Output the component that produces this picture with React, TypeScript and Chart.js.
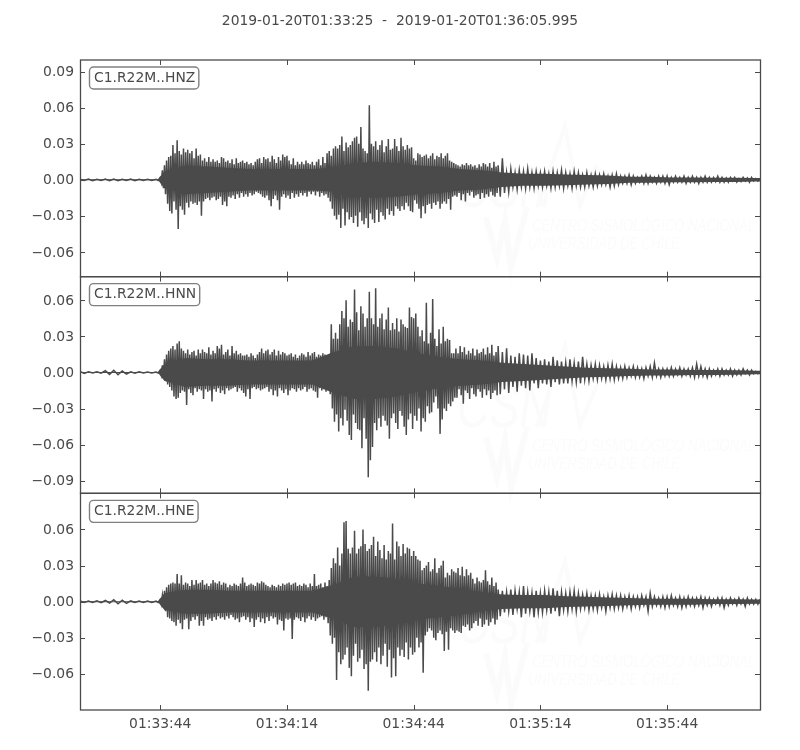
import React, { useEffect, useRef } from "react";
import { Chart, registerables } from "chart.js";

Chart.register(...registerables);

const TITLE = "2019-01-20T01:33:25  -  2019-01-20T01:36:05.995";
const X_TICK_SECONDS = [19, 49, 79, 109, 139];
const X_TICK_LABELS = ["01:33:44", "01:34:14", "01:34:44", "01:35:14", "01:35:44"];
const X_MAX = 160.995;
const UNIT = 0.001;

const STATIONS = ["C1.R22M..HNZ", "C1.R22M..HNN", "C1.R22M..HNE"];
const Y_RANGES = [[-0.0806, 0.0997], [-0.1004, 0.0796], [-0.09, 0.09]];
const Y_TICKS = [
  [0.09, 0.06, 0.03, 0, -0.03, -0.06],
  [0.06, 0.03, 0, -0.03, -0.06, -0.09],
  [0.06, 0.03, 0, -0.03, -0.06],
];

// Peak amplitudes, in thousandths.
// Rows: pre-event (2 s apart), eight 10 s rows (0.5 s apart), coda (1 s apart).
const Z_UP = [
  0.5, 0.6, 0.5, 0.6, 0.7, 0.5, 0.6, 0.5, 0.4, 0.5,
  2, 8, 12, 16, 19, 20, 29, 22, 33, 24, 21, 26, 23, 25, 22, 24, 18, 26, 20, 21,
  16, 18, 15, 19, 15, 17, 15, 16, 14, 19, 18, 15, 16, 14, 17, 13, 18, 14, 15, 16,
  14, 15, 13, 14, 12, 15, 17, 18, 14, 19, 17, 18, 15, 20, 17, 14, 19, 16, 21, 19,
  20, 16, 13, 18, 12, 15, 13, 15, 13, 16, 14, 13, 15, 12, 15, 17, 12, 19, 14, 22,
  24, 20, 26, 28, 26, 29, 36, 24, 31, 27, 29, 32, 35, 36, 30, 44, 26, 24, 22, 62,
  30, 28, 32, 25, 29, 33, 23, 28, 34, 25, 26, 34, 28, 24, 35, 28, 25, 29, 26, 27,
  18, 16, 22, 21, 19, 20, 21, 18, 20, 22, 17, 20, 19, 22, 18, 20, 22, 16, 15, 14,
  13, 12, 11, 13, 12, 14, 12, 13, 11, 12, 10, 13, 11, 14, 13, 11, 14, 10, 15, 11,
  12, 18, 6, 9, 6, 8, 7, 9, 6, 7,
  6, 7, 5, 7, 6, 8, 6, 5, 7, 6,
  4, 6, 4, 5, 4, 5, 3, 4, 5, 3,
  3, 4, 3, 2, 3, 4, 3, 2, 3, 3,
  3, 2, 3, 2, 3, 2, 3, 2, 2, 3,
  2, 2, 3, 2, 1.5, 2, 2, 1, 2, 1.5, 2, 1, 1,
];
const Z_DOWN = [
  -0.6, -0.7, -0.6, -0.8, -0.7, -0.6, -0.7, -0.6, -0.5, -0.6,
  -2, -7, -12, -20, -26, -28, -18, -25, -41, -22, -25, -29, -19, -23, -18, -20, -19, -21, -18, -30,
  -18, -16, -15, -17, -15, -14, -17, -16, -14, -21, -18, -22, -14, -15, -13, -16, -12, -15, -11, -14,
  -12, -14, -11, -13, -12, -10, -11, -12, -14, -15, -13, -17, -22, -16, -13, -17, -25, -14, -12, -15,
  -13, -16, -11, -15, -12, -14, -11, -13, -11, -14, -10, -12, -10, -13, -10, -14, -11, -13, -12, -15,
  -18, -24, -30, -33, -29, -40, -24, -38, -27, -33, -31, -36, -30, -39, -27, -34, -37, -32, -40, -28,
  -33, -36, -25, -35, -27, -30, -33, -24, -29, -26, -30, -22, -24, -26, -22, -25, -19, -22, -26, -27,
  -17, -20, -24, -32, -22, -28, -21, -20, -24, -19, -21, -18, -24, -20, -18, -20, -16, -25, -14, -13,
  -14, -11, -17, -12, -18, -11, -13, -10, -15, -13, -12, -16, -11, -15, -12, -14, -10, -13, -14, -11,
  -14, -11, -10, -6, -8, -6, -7, -6, -7, -5,
  -6, -5, -7, -6, -5, -7, -5, -7, -5, -6,
  -6, -5, -6, -5, -4, -4, -6, -5, -4, -3,
  -3, -4, -3, -2, -3, -3, -2, -3, -2, -3,
  -4, -2, -2, -2, -3, -2, -2, -3, -2, -2,
  -2, -1.5, -2, -2, -2, -1, -2, -1.5, -1, -2, -1, -1, -1,
];
const N_UP = [
  0.8, 0.5, 0.6, 1.5, 1.8, 1.2, 0.6, 0.5, 0.4, 0.4,
  2, 6, 11, 15, 18, 20, 22, 19, 24, 26, 20, 18, 16, 19, 15, 17, 18, 14, 19, 16,
  19, 17, 16, 21, 15, 18, 16, 22, 20, 23, 15, 17, 19, 14, 22, 16, 18, 15, 16, 14,
  14, 15, 13, 16, 14, 12, 15, 17, 20, 16, 18, 19, 15, 17, 19, 14, 18, 15, 17, 16,
  14, 15, 16, 13, 15, 12, 14, 16, 15, 13, 17, 14, 16, 17, 13, 15, 14, 16, 15, 14,
  15, 40, 28, 33, 28, 40, 51, 45, 60, 38, 44, 42, 69, 50, 35, 55, 49, 38, 45, 67,
  45, 40, 70, 38, 45, 49, 36, 44, 54, 35, 41, 36, 45, 34, 44, 40, 38, 37, 54, 46,
  45, 49, 38, 30, 35, 26, 58, 24, 33, 61, 28, 22, 36, 24, 38, 26, 28, 27, 16, 16,
  20, 16, 22, 17, 21, 15, 18, 16, 20, 14, 19, 16, 17, 20, 15, 21, 16, 23, 14, 17,
  22, 17, 20, 14, 13, 16, 15, 14, 16, 12,
  10, 11, 9, 13, 10, 9, 8, 11, 8, 9,
  13, 7, 6, 7, 6, 5, 6, 7, 5, 4,
  5, 4, 5, 4, 3, 4, 5, 8, 3, 3,
  3, 4, 3, 4, 3, 3, 4, 7, 5, 3,
  3, 2, 3, 3, 2, 3, 2, 2, 3, 2, 2, 1, 1,
];
const N_DOWN = [
  -0.8, -0.5, -0.6, -1.6, -1.9, -1.3, -0.6, -0.5, -0.4, -0.4,
  -2, -5, -7, -10, -12, -15, -20, -22, -21, -17, -15, -16, -27, -14, -17, -19, -13, -16, -14, -15,
  -22, -14, -16, -15, -24, -14, -16, -13, -17, -15, -18, -13, -15, -14, -13, -12, -16, -13, -15, -17,
  -20, -14, -22, -13, -12, -14, -13, -15, -14, -13, -12, -16, -14, -19, -15, -20, -13, -15, -17, -14,
  -19, -15, -13, -14, -16, -13, -15, -14, -12, -16, -14, -13, -15, -16, -21, -13, -15, -14, -16, -13,
  -18, -30, -41, -35, -49, -38, -44, -31, -40, -52, -56, -35, -42, -47, -48, -63, -38, -55, -87, -73,
  -62, -42, -48, -38, -45, -36, -40, -44, -55, -38, -34, -42, -47, -32, -36, -45, -52, -39, -34, -47,
  -36, -40, -30, -49, -38, -41, -28, -34, -33, -25, -20, -30, -51, -39, -30, -32, -26, -28, -24, -21,
  -21, -14, -19, -26, -15, -17, -22, -13, -18, -20, -14, -16, -21, -14, -19, -15, -22, -17, -15, -19,
  -18, -14, -17, -12, -16, -11, -13, -15, -9, -13,
  -9, -10, -12, -8, -10, -9, -9, -7, -8, -9,
  -6, -7, -5, -6, -5, -6, -5, -6, -5, -5,
  -4, -3, -4, -4, -5, -3, -4, -3, -4, -3,
  -3, -3, -2, -3, -2, -3, -4, -3, -3, -4,
  -3, -2, -3, -2, -2, -3, -2, -2, -1, -2, -1, -1, -1,
];
const E_UP = [
  0.6, 0.6, 0.7, 1, 1.6, 1.3, 0.6, 0.5, 0.5, 0.5,
  2, 5, 9, 12, 14, 15, 16, 15, 23, 15, 22, 14, 16, 15, 13, 18, 14, 18, 15, 16,
  18, 14, 15, 13, 15, 18, 16, 15, 17, 14, 16, 15, 12, 14, 13, 15, 14, 13, 15, 20,
  16, 13, 14, 15, 14, 13, 16, 15, 17, 16, 14, 13, 12, 14, 13, 12, 14, 13, 15, 14,
  15, 16, 14, 15, 16, 13, 14, 13, 15, 14, 12, 15, 13, 23, 13, 14, 15, 12, 16, 13,
  18, 28, 36, 32, 45, 30, 40, 66, 67, 44, 40, 45, 59, 40, 44, 46, 60, 48, 42, 44,
  47, 54, 38, 50, 43, 36, 47, 35, 42, 40, 65, 35, 50, 46, 38, 48, 40, 45, 44, 38,
  42, 38, 35, 34, 26, 28, 30, 33, 25, 27, 36, 24, 28, 30, 34, 20, 24, 22, 27, 25,
  24, 28, 22, 29, 21, 27, 22, 24, 19, 15, 20, 17, 16, 18, 26, 17, 14, 20, 13, 16,
  10, 9, 8, 10, 9, 8, 13, 8, 7, 9,
  7, 9, 8, 11, 9, 8, 7, 8, 9, 7,
  6, 7, 5, 5, 6, 4, 5, 6, 5, 5,
  4, 5, 4, 4, 5, 4, 7, 4, 3, 4,
  4, 5, 3, 4, 3, 4, 3, 3, 4, 3,
  3, 2, 3, 3, 2, 3, 2, 3, 2, 3, 2, 2, 2,
];
const E_DOWN = [
  -0.7, -0.7, -0.8, -1.1, -1.7, -1.4, -0.7, -0.6, -0.6, -0.6,
  -2, -5, -8, -13, -14, -16, -17, -20, -15, -18, -23, -15, -14, -23, -16, -13, -15, -12, -20, -16,
  -20, -13, -15, -14, -16, -13, -15, -12, -14, -13, -15, -12, -14, -11, -13, -15, -14, -17, -13, -12,
  -15, -13, -17, -14, -21, -15, -13, -17, -14, -18, -13, -16, -12, -14, -13, -19, -15, -16, -24, -14,
  -15, -14, -31, -15, -13, -14, -16, -13, -17, -14, -12, -15, -13, -16, -14, -13, -12, -15, -13, -18,
  -28, -35, -30, -65, -42, -52, -48, -44, -38, -55, -62, -45, -35, -50, -47, -40, -56, -52, -74, -50,
  -48, -42, -50, -38, -52, -45, -35, -54, -40, -63, -47, -62, -38, -45, -40, -46, -34, -48, -38, -44,
  -42, -30, -38, -34, -59, -28, -25, -22, -24, -30, -32, -26, -24, -27, -41, -25, -40, -22, -24, -26,
  -24, -25, -26, -20, -21, -19, -24, -22, -18, -16, -20, -14, -21, -19, -15, -20, -17, -14, -19, -15,
  -12, -9, -8, -11, -6, -13, -10, -8, -13, -9,
  -9, -7, -10, -8, -12, -7, -8, -6, -8, -6,
  -5, -7, -6, -7, -5, -8, -5, -6, -5, -6,
  -4, -6, -4, -5, -3, -8, -4, -3, -4, -5,
  -4, -3, -4, -5, -4, -3, -4, -3, -5, -3,
  -4, -2, -3, -5, -3, -2, -3, -2, -4, -2, -2, -2, -2,
];
const UPPER = [Z_UP, N_UP, E_UP];
const LOWER = [Z_DOWN, N_DOWN, E_DOWN];

// Half-width of the solid body of each trace, in thousandths.
const BODY_TIMES = [0, 18.5, 20, 25, 30, 35, 40, 45, 50, 55, 60, 65, 70, 75, 80, 85, 90, 95, 100, 105, 110, 115, 120, 125, 130, 135, 140, 145, 150, 155, 160, 161];
const Z_BODY = [0.4, 0.4, 7, 12, 11, 10, 9, 9, 9, 9, 10, 14, 15, 14, 12, 11, 9, 8, 6, 5, 5, 4.5, 4, 3.5, 2.5, 2.5, 2, 2, 1.8, 1.8, 1.5, 1.5];
const N_BODY = [0.4, 0.4, 7, 12, 11, 11, 10, 10, 10, 10, 17, 22, 22, 20, 16, 13, 11, 10, 8, 7, 6, 5, 4, 3.5, 3, 2.5, 2.5, 2, 2, 1.8, 1.5, 1.5];
const E_BODY = [0.4, 0.4, 7, 10, 10, 9, 9, 9, 9, 9, 14, 21, 21, 19, 15, 13, 11, 8, 6, 5.5, 5.5, 4.5, 4, 3.5, 3, 2.5, 2.5, 2.5, 2, 2, 1.8, 1.8];
const BODIES = [Z_BODY, N_BODY, E_BODY];

const INK = "#4a4a4a";
const FONT = "DejaVu Sans";
const FONT_SIZE = 13.89;

function sampleTime(i: number): number {
  if (i < 10) return i * 2;
  if (i < 170) return 19 + (i - 10) * 0.5;
  return 99 + (i - 170);
}

function tracePoints(up: number[], down: number[]) {
  const pts: { x: number; y: number }[] = [];
  up.forEach((u, i) => {
    const t = sampleTime(i);
    const gap = (sampleTime(i + 1) - t) / 2;
    pts.push({ x: t, y: u * UNIT });
    pts.push({ x: t + gap, y: (down[i] ?? 0) * UNIT });
  });
  return pts;
}

const watermark = {
  id: "watermark",
  beforeDatasetsDraw(chart: any) {
    const ctx = chart.ctx;
    [0, 220, 436].forEach((dy) => {
      ctx.save();
      ctx.fillStyle = "#fbfbfb";
      ctx.strokeStyle = "#fbfbfb";
      ctx.font = "italic 62px 'Liberation Sans'";
      ctx.textBaseline = "alphabetic";
      ctx.fillText("CSN", 457, 207 + dy, 95);
      ctx.lineWidth = 4;
      ctx.beginPath();
      ctx.moveTo(537, 207 + dy);
      ctx.lineTo(565, 126 + dy);
      ctx.lineTo(580, 205 + dy);
      ctx.lineTo(597, 165 + dy);
      ctx.stroke();
      ctx.beginPath();
      ctx.moveTo(486, 217 + dy);
      ctx.lineTo(497, 258 + dy);
      ctx.lineTo(505, 220 + dy);
      ctx.lineTo(511, 268 + dy);
      ctx.lineTo(527, 207 + dy);
      ctx.lineWidth = 6;
      ctx.stroke();
      ctx.font = "italic 17px 'Liberation Sans'";
      ctx.fillText("CENTRO SISMOLÓGICO NACIONAL", 532, 231 + dy, 223);
      ctx.fillText("UNIVERSIDAD DE CHILE", 528, 249 + dy, 152);
      ctx.restore();
    });
  },
};

const frame = {
  id: "frame",
  afterDraw(chart: any) {
    const ctx = chart.ctx;
    const { left, right } = chart.chartArea;
    const xScale = chart.scales.x;
    ctx.save();
    ctx.font = `${FONT_SIZE}px '${FONT}'`;
    ctx.fillStyle = INK;
    ctx.textAlign = "center";
    ctx.textBaseline = "middle";
    ctx.fillText(TITLE, 400, 21);
    STATIONS.forEach((name, p) => {
      const ys = chart.scales["y" + p];
      const top = ys.top;
      const bottom = ys.bottom;
      ctx.strokeStyle = INK;
      ctx.lineWidth = 1;
      ctx.beginPath();
      X_TICK_SECONDS.forEach((t) => {
        const x = Math.round(xScale.getPixelForValue(t)) + 0.5;
        ctx.moveTo(x, top);
        ctx.lineTo(x, top + 5);
        ctx.moveTo(x, bottom);
        ctx.lineTo(x, bottom - 5);
      });
      Y_TICKS[p].forEach((v) => {
        const y = Math.round(ys.getPixelForValue(v)) + 0.5;
        ctx.moveTo(left, y);
        ctx.lineTo(left + 5, y);
        ctx.moveTo(right, y);
        ctx.lineTo(right - 5, y);
      });
      ctx.stroke();
      ctx.lineWidth = 1.3;
      ctx.strokeRect(left + 0.5, top, right - left, bottom - top);

      const w = ctx.measureText(name).width;
      const bx = left + 9.5;
      const by = top + 7;
      ctx.beginPath();
      ctx.roundRect(bx, by, w + 8, 22, 4);
      ctx.fillStyle = "#ffffff";
      ctx.fill();
      ctx.strokeStyle = "#808080";
      ctx.lineWidth = 1.4;
      ctx.stroke();
      ctx.fillStyle = INK;
      ctx.textAlign = "left";
      ctx.fillText(name, bx + 4.5, by + 11);
    });
    ctx.restore();
  },
};

export default function App() {
  const ref = useRef<HTMLCanvasElement | null>(null);
  useEffect(() => {
    const yScales: any = {};
    // Stacked axes are laid out from the bottom up, so the last panel goes first.
    [2, 1, 0].forEach((p) => {
      yScales["y" + p] = {
        type: "linear",
        position: "left",
        stack: "traces",
        stackWeight: 1,
        min: Y_RANGES[p][0],
        max: Y_RANGES[p][1],
        grid: { display: false, drawTicks: false },
        border: { display: false },
        afterBuildTicks: (s: any) => {
          s.ticks = Y_TICKS[p].map((value) => ({ value }));
        },
        afterFit: (s: any) => {
          s.width = 80;
        },
        ticks: {
          padding: 6,
          labelOffset: 1,
          color: INK,
          autoSkip: false,
          font: { family: FONT, size: FONT_SIZE },
          callback: (v: number) => (v < 0 ? "\u2212" : "") + Math.abs(v).toFixed(2),
        },
      };
    });
    const datasets: any[] = [];
    STATIONS.forEach((name, p) => {
      datasets.push({
        label: name,
        data: tracePoints(UPPER[p], LOWER[p]),
        yAxisID: "y" + p,
        borderColor: INK,
        borderWidth: 1.5,
        pointRadius: 0,
        tension: 0,
        fill: false,
      });
      const index = datasets.length;
      datasets.push({
        label: name + " body",
        data: BODY_TIMES.map((x, i) => ({ x, y: BODIES[p][i] * UNIT })),
        yAxisID: "y" + p,
        borderWidth: 0,
        pointRadius: 0,
        backgroundColor: INK,
        fill: index + 1,
      });
      datasets.push({
        label: name + " body lower",
        data: BODY_TIMES.map((x, i) => ({ x, y: -BODIES[p][i] * UNIT })),
        yAxisID: "y" + p,
        borderWidth: 0,
        pointRadius: 0,
        fill: false,
      });
    });
    const chart = new Chart(ref.current as HTMLCanvasElement, {
      type: "line",
      data: { datasets },
      options: {
        animation: false,
        responsive: false,
        events: [],
        layout: { padding: { left: 0, right: 40, top: 60, bottom: 0 }, autoPadding: false },
        plugins: {
          legend: { display: false },
          tooltip: { enabled: false },
          title: { display: false },
        },
        scales: {
          x: {
            type: "linear",
            position: "bottom",
            min: 0,
            max: X_MAX,
            grid: { display: false, drawTicks: false },
            border: { display: false },
            afterBuildTicks: (s: any) => {
              s.ticks = X_TICK_SECONDS.map((value) => ({ value }));
            },
            afterFit: (s: any) => {
              s.height = 40;
            },
            ticks: {
              padding: 6,
              color: INK,
              autoSkip: false,
              maxRotation: 0,
              font: { family: FONT, size: FONT_SIZE },
              callback: (v: number) => X_TICK_LABELS[X_TICK_SECONDS.indexOf(v)],
            },
          },
          ...yScales,
        },
      } as any,
      plugins: [watermark, frame],
    });
    return () => chart.destroy();
  }, []);
  return (
    <div style={{ position: "absolute", left: 0, top: 0, width: 800, height: 750 }}>
      <canvas ref={ref} width={800} height={750} style={{ display: "block" }} />
    </div>
  );
}
